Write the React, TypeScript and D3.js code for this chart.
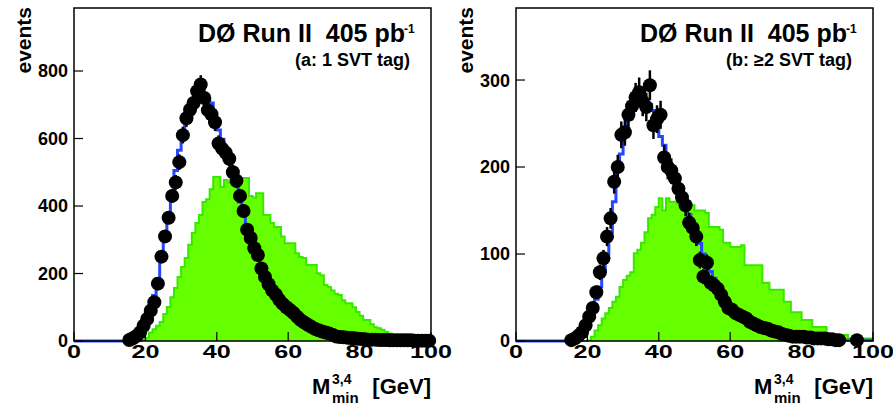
import React from 'react';
import * as d3 from 'd3';

// ---- data (1 GeV bins, 0..100 GeV) ----
const BIN_EDGES = d3.range(0, 101);
const X_TICKS = [0, 20, 40, 60, 80, 100];
const Y_TICKS_A = [0, 200, 400, 600, 800];
const Y_TICKS_B = [0, 100, 200, 300];

const DATA_A = [
  0, 0, 0, 0, 0, 0, 0, 0, 0, 0,
  0, 0, 0, 0, 0, 3, 8, 15, 25, 45,
  65, 90, 115, 170, 250, 310, 365, 430, 470, 530,
  610, 660, 685, 705, 740, 760, 720, 684, 672, 648,
  585, 570, 558, 540, 500, 475, 430, 385, 330, 305,
  275, 255, 215, 190, 168, 150, 138, 122, 110, 100,
  92, 83, 72, 62, 55, 48, 42, 36, 32, 28,
  25, 22, 18, 13, 12, 11, 10, 9, 8, 7,
  6, 5, 4, 4, 4, 3, 3, 3, 2, 2,
  2, 2, 2, 2, 2, 1, 1, 1, 1, 1,
];
const MC_A = [
  0, 0, 0, 0, 0, 0, 0, 0, 0, 0,
  0, 0, 0, 0, 0, 5, 10, 20, 35, 55,
  80, 105, 135, 185, 245, 305, 370, 440, 505, 565,
  620, 660, 690, 710, 718, 722, 722, 715, 705, 670,
  625, 598, 565, 530, 498, 460, 412, 375, 340, 308,
  278, 250, 222, 195, 172, 152, 135, 120, 107, 96,
  86, 77, 68, 60, 53, 47, 41, 36, 32, 28,
  25, 22, 19, 16, 14, 12, 10, 9, 8, 7,
  6, 5, 5, 4, 4, 3, 3, 3, 2, 2,
  2, 2, 2, 1, 1, 1, 1, 1, 1, 1,
];
const BKG_A = [
  0, 0, 0, 0, 0, 0, 0, 0, 0, 0,
  0, 0, 0, 0, 0, 0, 0, 0, 0, 3,
  10, 25, 35, 45, 56, 80, 101, 130, 157, 190,
  219, 246, 285, 320, 350, 373, 412, 420, 450, 486,
  486, 456, 477, 470, 480, 470, 475, 483, 483, 430,
  425, 438, 438, 373, 373, 350, 338, 338, 310, 290,
  290, 290, 260, 249, 246, 225, 225, 225, 201, 195,
  166, 160, 150, 140, 136, 121, 112, 112, 100, 86,
  75, 62, 62, 50, 41, 38, 33, 27, 22, 18,
  15, 12, 10, 8, 7, 6, 5, 5, 4, 4,
];

const DATA_B = [
  0, 0, 0, 0, 0, 0, 0, 0, 0, 0,
  0, 0, 0, 0, 0, 1, 3, 6, 10, 18,
  28, 38, 56, 79, 95, 120, 141, 183, 200, 237,
  240, 260, 270, 280, 286, 275, 269, 294, 248, 255,
  260, 211, 200, 196, 187, 175, 165, 156, 136, 130,
  120, 93, 74, 90, 67, 64, 60, 53, 45, 38,
  36, 32, 30, 28, 26, 22, 20, 18, 16, 15,
  14, 12, 11, 10, 8, 7, 6, 5, 5, 5,
  5, 4, 4, 3, 3, 3, 3, 2, 2, 1,
  1, 0, 0, 0, 0, 1, 0, 0, 0, 0,
];
const MC_B = [
  0, 0, 0, 0, 0, 0, 0, 0, 0, 0,
  0, 0, 0, 0, 0, 2, 4, 7, 12, 18,
  26, 36, 48, 62, 80, 100, 125, 160, 200, 215,
  240, 258, 270, 278, 283, 283, 278, 272, 265, 250,
  235, 225, 212, 198, 188, 178, 165, 155, 145, 133,
  122, 112, 100, 90, 80, 72, 64, 57, 50, 44,
  39, 35, 31, 28, 25, 22, 20, 18, 16, 14,
  13, 12, 10, 9, 8, 7, 6, 5, 5, 4,
  4, 3, 3, 3, 2, 2, 2, 2, 2, 2,
  1, 1, 1, 1, 1, 1, 1, 1, 1, 1,
];
const BKG_B = [
  0, 0, 0, 0, 0, 0, 0, 0, 0, 0,
  0, 0, 0, 0, 0, 0, 0, 0, 0, 0,
  1, 5, 12, 18, 26, 32, 38, 45, 51, 62,
  70, 75, 79, 101, 105, 113, 125, 141, 145, 154,
  164, 150, 164, 160, 160, 158, 157, 156, 156, 156,
  150, 150, 150, 147, 131, 131, 131, 128, 113, 113,
  108, 108, 108, 110, 87, 87, 87, 87, 87, 67,
  67, 59, 59, 59, 59, 45, 45, 33, 33, 33,
  24, 24, 24, 16, 16, 16, 16, 7, 7, 7,
  7, 7, 7, 3, 3, 3, 3, 3, 3, 3,
];

const TITLE = 'DØ Run II  405 pb';
const TAG_A = '(a: 1 SVT tag)';
const TAG_B = '(b: ≥2 SVT tag)';

const FONT = '"Liberation Sans", Arial, Helvetica, sans-serif';
const GREEN_FILL = '#66ff00';
const GREEN_EDGE = '#38e800';
const BLUE = '#2447ff';

type PanelProps = {
  id: string;
  dx: number;
  yMax: number;
  yTicks: number[];
  data: number[];
  mc: number[];
  bkg: number[];
  tag: string;
};

function Panel({ id, dx, yMax, yTicks, data, mc, bkg, tag }: PanelProps) {
  const x0 = 74 + dx;
  const x1 = 431 + dx;
  const y0 = 8;
  const y1 = 341;
  const x = d3.scaleLinear().domain([0, 100]).range([x0, x1]);
  const y = d3.scaleLinear().domain([0, yMax]).range([y1, y0]);

  const toSteps = (vals: number[]) =>
    vals.map((v, i) => [BIN_EDGES[i], v] as [number, number]).concat([[BIN_EDGES[vals.length], vals[vals.length - 1]]]);

  const stepLine = d3
    .line<[number, number]>()
    .curve(d3.curveStepAfter)
    .x((d) => x(d[0]))
    .y((d) => y(d[1]));
  const stepArea = d3
    .area<[number, number]>()
    .curve(d3.curveStepAfter)
    .x((d) => x(d[0]))
    .y0(y(0))
    .y1((d) => y(d[1]));

  const bkgSteps = toSteps(bkg);
  const mcSteps = toSteps(mc);

  const bold = { fontFamily: FONT, fontWeight: 700 as const };

  return (
    <g>
      <defs>
        <clipPath id={`clip-${id}`}>
          <rect x={x0} y={y0} width={x1 - x0} height={y1 - y0 + 2} />
        </clipPath>
      </defs>
      <g clipPath={`url(#clip-${id})`}>
        <path d={stepArea(bkgSteps) || ''} fill={GREEN_FILL} />
        <path d={stepLine(bkgSteps) || ''} fill="none" stroke={GREEN_EDGE} strokeWidth={2} />
        <path d={stepLine(mcSteps) || ''} fill="none" stroke={BLUE} strokeWidth={3} />
      </g>
      {/* frame */}
      <rect x={x0} y={y0} width={x1 - x0} height={y1 - y0} fill="none" stroke="#000" strokeWidth={1.5} />
      {/* data points */}
      <g>
        {data.map((v, i) => {
          if (v <= 0) return null;
          const cx = x(BIN_EDGES[i] + 0.5);
          const e = Math.sqrt(v);
          return (
            <g key={i}>
              <line x1={cx} x2={cx} y1={y(Math.max(0, v - e))} y2={y(v + e)} stroke="#000" strokeWidth={2.5} />
              <circle cx={cx} cy={y(v)} r={7} fill="#000" />
            </g>
          );
        })}
      </g>
      {/* y ticks */}
      {yTicks.map((t) => (
        <g key={`y${t}`}>
          <line x1={x0} x2={x0 + 9} y1={y(t)} y2={y(t)} stroke="#000" strokeWidth={1.2} />
          <text x={x0 - 6} y={y(t)} dy="0.36em" textAnchor="end" fontSize={18} {...bold}>
            {t}
          </text>
        </g>
      ))}
      {/* x ticks */}
      {X_TICKS.map((t) => (
        <g key={`x${t}`}>
          <line x1={x(t)} x2={x(t)} y1={y1} y2={y1 - 9} stroke="#000" strokeWidth={1.2} />
          <text
            x={x(t)}
            y={358}
            textAnchor="middle"
            fontSize={18}
            textLength={String(t).length * 14}
            lengthAdjust="spacingAndGlyphs"
            {...bold}
          >
            {t}
          </text>
        </g>
      ))}
      {/* y title */}
      <text
        transform={`translate(${31 + dx},7) rotate(-90)`}
        textAnchor="end"
        fontSize={21}
        {...bold}
      >
        events
      </text>
      {/* x title */}
      <text x={312 + dx} y={394} fontSize={22} {...bold}>M</text>
      <text x={332 + dx} y={384} fontSize={14} {...bold}>3,4</text>
      <text x={332 + dx} y={403} fontSize={15} {...bold}>min</text>
      <text x={431 + dx} y={394} textAnchor="end" fontSize={22} {...bold}>[GeV]</text>
      {/* title */}
      <text x={405 + dx} y={42} textAnchor="end" fontSize={25} style={{ whiteSpace: 'pre' }} {...bold}>
        {TITLE}
      </text>
      <text x={404 + dx} y={33} fontSize={12} {...bold}>-1</text>
      <text x={410 + dx} y={66} textAnchor="end" fontSize={18} {...bold}>
        {tag}
      </text>
    </g>
  );
}

export default function App() {
  return (
    <svg
      width={893}
      height={406}
      style={{ position: 'absolute', left: 0, top: 0, background: '#fff' }}
    >
      <rect x={0} y={0} width={893} height={406} fill="#fff" />
      <Panel id="a" dx={0} yMax={986.7} yTicks={Y_TICKS_A} data={DATA_A} mc={MC_A} bkg={BKG_A} tag={TAG_A} />
      <Panel id="b" dx={442} yMax={382.8} yTicks={Y_TICKS_B} data={DATA_B} mc={MC_B} bkg={BKG_B} tag={TAG_B} />
    </svg>
  );
}
